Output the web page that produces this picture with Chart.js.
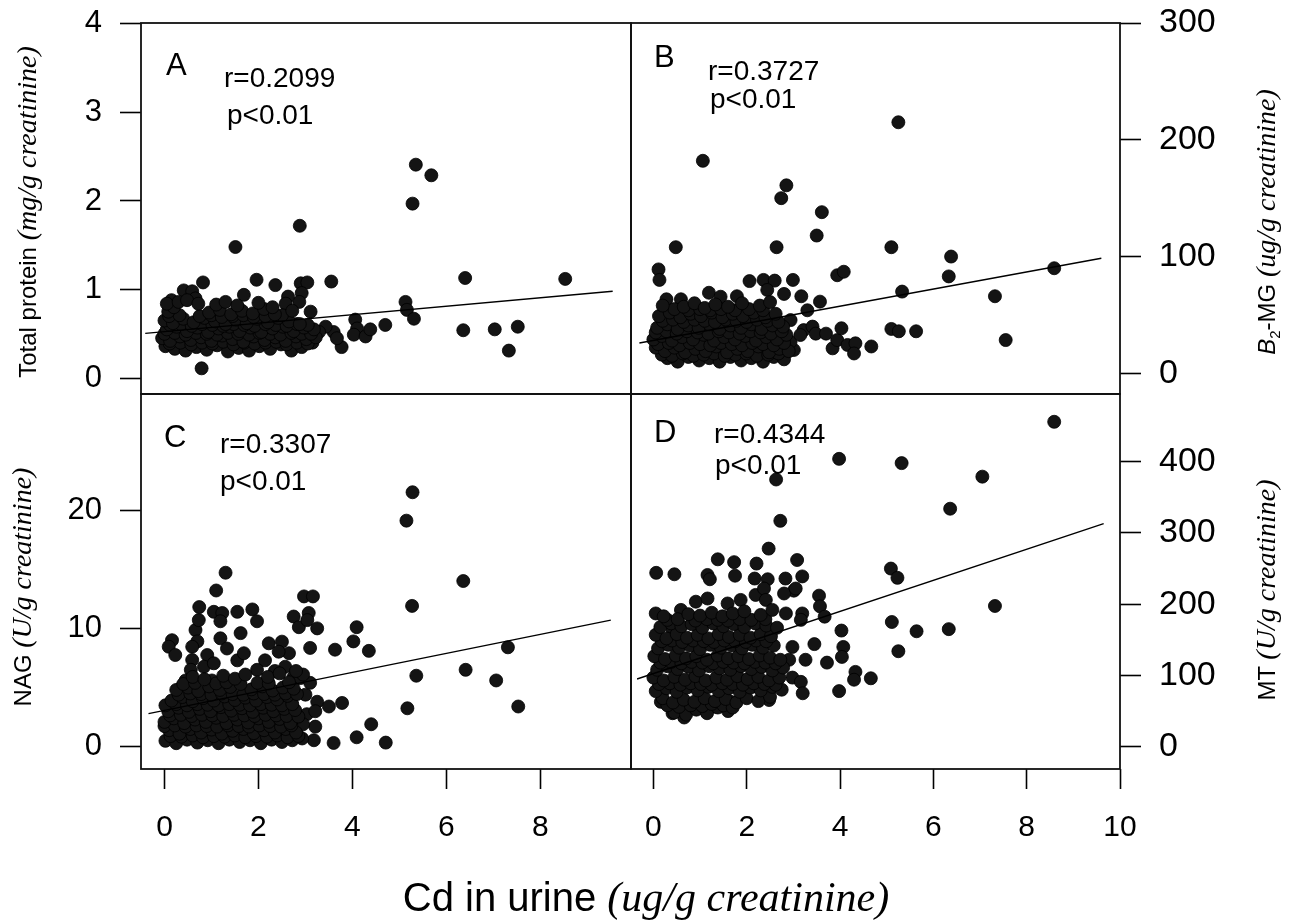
<!DOCTYPE html>
<html>
<head>
<meta charset="utf-8">
<title>Cd in urine and renal markers</title>
<script src="https://cdn.jsdelivr.net/npm/chart.js@4.4.1/dist/chart.umd.min.js"></script>
<style>
  html, body { margin: 0; padding: 0; background: #fff; }
  #page { position: relative; width: 1295px; height: 922px; overflow: hidden;
          font-family: 'Liberation Sans', Arial, sans-serif; color: #000; }
  canvas { position: absolute; }
  .title { position: absolute; white-space: nowrap; line-height: 1; font-size: 24px;
           transform: translate(-50%, -50%) rotate(-90deg); }
  .title i { font-family: 'Liberation Serif', 'Times New Roman', serif; font-size: 28px; }
  .title sub { font-size: 15px; }
  #xtitle { transform: translate(-50%, -50%); font-size: 40px; }
  #xtitle i { font-size: 42px; }
</style>
</head>
<body>
<div id="page">
  <canvas id="chartA" width="640" height="402" style="left:0;top:0"></canvas>
  <canvas id="chartB" width="673" height="402" style="left:622px;top:0"></canvas>
  <canvas id="chartC" width="640" height="536" style="left:0;top:386px"></canvas>
  <canvas id="chartD" width="673" height="536" style="left:622px;top:386px"></canvas>
  <div class="title" style="left:27px;top:212px">Total protein <i>(mg/g creatinine)</i></div>
  <div class="title" style="left:22px;top:587px">NAG <i>(U/g creatinine)</i></div>
  <div class="title" style="left:1267px;top:222px"><span style="font-style:italic">B</span><sub>2</sub>-MG <i>(ug/g creatinine)</i></div>
  <div class="title" style="left:1266px;top:590px">MT <i>(U/g creatinine)</i></div>
  <div class="title" id="xtitle" style="left:646px;top:897px">Cd in urine <i>(ug/g creatinine)</i></div>
</div>
<script>
// Axis ticks
const proteinTicks = [0, 1, 2, 3, 4];
const b2mgTicks = [0, 100, 200, 300];
const nagTicks = [0, 10, 20];
const mtTicks = [0, 100, 200, 300, 400];
const cdTicksLeft = [0, 2, 4, 6, 8];
const cdTicksRight = [0, 2, 4, 6, 8, 10];

// Panel annotations
const statsA = ['A', 'r=0.2099', 'p<0.01'];
const statsB = ['B', 'r=0.3727', 'p<0.01'];
const statsC = ['C', 'r=0.3307', 'p<0.01'];
const statsD = ['D', 'r=0.4344', 'p<0.01'];

// Regression line end points [Cd, value]
const proteinFit = [[-0.41, 0.505], [9.54, 0.98]];
const b2mgFit = [[-0.30, 26], [9.6, 98.5]];
const nagFit = [[-0.34, 2.8], [9.5, 10.7]];
const mtFit = [[-0.35, 95], [9.65, 313]];

// Total protein vs Cd  [Cd, mg/g creatinine]
const proteinPts = [
  [0.79,0.11],[1.51,1.48],[2.88,1.72],[5.35,2.41],[5.68,2.29],[5.28,1.97],
  [6.40,1.13],[8.53,1.12],[6.36,0.54],[7.03,0.55],[7.52,0.58],[7.33,0.31],
  [4.70,0.60],[5.13,0.86],[5.16,0.77],[5.31,0.67],
  [3.55,1.09],[2.90,1.07],[3.04,1.08],[2.92,0.96],[2.87,0.86],[2.63,0.92],[2.58,0.84],
  [2.36,1.05],[1.96,1.11],[0.82,1.08],[1.69,0.94],[3.11,0.75],
  [4.06,0.66],[4.10,0.56],[4.03,0.49],[4.28,0.47],[4.38,0.55],
  [3.77,0.35],[3.60,0.52],[3.67,0.45],[3.43,0.58],[3.29,0.52],
  [0.41,0.99],[0.59,0.98],[0.66,0.90],[0.15,0.88],
  [0.02,0.36],[0.22,0.33],[0.45,0.31],[0.68,0.35],[0.90,0.32],[1.12,0.37],[1.35,0.30],[1.58,0.34],
  [1.80,0.31],[2.02,0.36],[2.25,0.33],[2.48,0.38],[2.70,0.31],[2.92,0.35],[3.15,0.40],
  [0.11,0.39],[0.34,0.40],[0.57,0.38],[0.80,0.40],[1.02,0.39],[1.25,0.41],[1.47,0.38],[1.70,0.40],
  [1.92,0.39],[2.15,0.40],[2.38,0.41],[2.60,0.38],[2.82,0.40],[3.05,0.39],
  [-0.05,0.45],[0.12,0.42],[0.33,0.47],[0.56,0.43],[0.78,0.46],[1.00,0.42],[1.23,0.48],[1.45,0.44],
  [1.68,0.41],[1.90,0.47],[2.13,0.43],[2.36,0.46],[2.58,0.42],[2.80,0.47],[3.02,0.44],[3.22,0.46],
  [0.00,0.50],[0.22,0.51],[0.45,0.49],[0.67,0.51],[0.90,0.50],[1.12,0.49],[1.35,0.51],[1.57,0.50],
  [1.80,0.49],[2.02,0.51],[2.25,0.50],[2.47,0.49],[2.70,0.51],[2.92,0.50],[3.12,0.50],
  [0.05,0.55],[0.26,0.58],[0.48,0.53],[0.70,0.57],[0.93,0.52],[1.15,0.56],[1.38,0.58],[1.60,0.53],
  [1.83,0.57],[2.06,0.52],[2.30,0.56],[2.52,0.58],[2.75,0.53],[2.97,0.57],[3.18,0.55],
  [0.12,0.60],[0.35,0.61],[0.58,0.59],[0.80,0.61],[1.02,0.60],[1.25,0.59],[1.47,0.61],[1.70,0.60],
  [1.92,0.59],[2.15,0.61],[2.37,0.60],[2.60,0.59],[2.82,0.61],[3.05,0.60],
  [0.00,0.65],[0.18,0.62],[0.40,0.67],[0.62,0.63],[0.85,0.68],[1.08,0.64],[1.30,0.61],[1.52,0.66],
  [1.75,0.62],[1.97,0.67],[2.20,0.63],[2.42,0.68],[2.65,0.64],[2.88,0.61],
  [0.10,0.70],[0.32,0.71],[0.75,0.70],[1.00,0.71],[1.22,0.69],[1.45,0.70],[1.68,0.71],[1.90,0.69],
  [2.15,0.70],[2.50,0.71],
  [0.08,0.75],[0.20,0.80],[0.95,0.74],[1.18,0.77],[1.42,0.72],[1.65,0.76],[1.88,0.73],[2.12,0.78],
  [2.35,0.72],[2.72,0.76],
  [0.05,0.84],[0.30,0.86],[0.48,0.88],[0.72,0.84],[1.10,0.83],[1.30,0.86],[1.55,0.82],[2.00,0.85],[2.30,0.80]
];

// B2-MG vs Cd  [Cd, ug/g creatinine]
const b2mgPts = [
  [5.25,215],[1.06,182],[2.85,161],[2.74,150],[3.61,138],[3.50,118],
  [0.48,108],[2.64,108],[5.10,108],[6.38,100],[6.33,83],[8.59,90],
  [5.33,70],[7.32,66],[7.55,28.5],[5.10,38],[5.26,36],[5.63,36],
  [2.94,45.6],[3.22,37],[3.41,40],[3.48,34],[3.70,34],[3.84,21.4],[3.94,28.5],[4.03,38.6],
  [4.16,24.3],[4.33,25.7],[4.30,17],[4.67,23],[3.01,20],[2.94,27],[3.15,32.8],
  [3.94,84],[4.08,87],[0.11,89],[0.13,80],[2.06,79],[2.36,80],[2.60,79.4],[2.99,80],
  [3.57,61.4],[0.28,63.4],[0.59,63.4],[1.19,69],[1.44,65.6],[1.79,66],[3.17,66],[2.80,68],[2.44,71.4],[3.30,54],
  [0.30,13],[0.52,10],[0.75,14],[0.98,11],[1.20,13],[1.42,10],[1.65,14],[1.88,11],[2.10,13],[2.35,10],[2.58,14],[2.80,12],
  [0.18,16],[0.40,15],[0.63,17],[0.86,15],[1.08,16],[1.30,17],[1.53,15],[1.76,16],[1.99,17],[2.22,15],[2.46,16],[2.68,17],
  [0.05,22],[0.25,19],[0.45,22],[0.68,18],[0.90,21],[1.12,19],[1.35,23],[1.58,18],[1.80,21],[2.02,19],[2.25,23],[2.48,18],[2.70,21],[2.90,19],
  [0.10,25],[0.33,26],[0.56,24],[0.78,26],[1.00,25],[1.22,24],[1.45,26],[1.68,25],[1.90,24],[2.12,26],[2.35,25],[2.58,24],[2.80,26],
  [0.00,29],[0.18,32],[0.40,28],[0.62,31],[0.85,29],[1.08,33],[1.30,28],[1.52,31],[1.75,29],[1.97,32],[2.20,28],[2.42,31],[2.65,29],[2.85,33],
  [0.05,35],[0.28,36],[0.50,34],[0.72,36],[0.95,35],[1.18,34],[1.40,36],[1.62,35],[1.85,34],[2.08,36],[2.30,35],[2.52,34],[2.75,36],
  [0.08,39],[0.30,42],[0.52,38],[0.75,41],[0.97,39],[1.20,42],[1.42,38],[1.65,41],[1.88,39],[2.10,42],[2.32,38],[2.55,41],[2.78,40],
  [0.20,45],[0.42,46],[0.65,44],[0.88,46],[1.10,45],[1.32,44],[1.55,46],[1.78,45],[2.00,44],[2.22,46],[2.45,45],[2.68,44],
  [0.12,49],[0.35,52],[0.58,48],[0.80,51],[1.02,49],[1.25,52],[1.48,48],[1.70,51],[1.92,49],[2.15,52],[2.40,48],[2.62,51],
  [0.45,55],[0.75,54],[1.00,55],[1.22,54],[1.45,55],[1.75,54],[2.05,55],[2.35,54],
  [0.20,58],[0.65,57],[0.88,60],[1.10,56],[1.33,59],[1.60,57],[1.90,60],[2.28,58],[2.50,61]
];

// NAG vs Cd  [Cd, U/g creatinine]
const nagPts = [
  [5.28,21.5],[5.15,19.1],[1.30,14.7],[1.10,13.2],[6.36,14.0],[5.27,11.9],
  [2.97,12.7],[3.16,12.7],[0.74,11.8],[4.09,10.1],[4.02,8.9],[4.35,8.1],
  [3.63,8.2],[3.10,8.35],[7.31,8.4],[5.36,6.0],[6.41,6.5],[7.06,5.6],
  [5.17,3.25],[7.53,3.4],[4.71,0.35],[4.40,1.9],[4.09,0.8],[3.60,0.32],
  [3.78,3.7],[3.25,3.8],[3.50,3.4],[3.03,2.75],[3.21,3.0],[3.21,1.7],[3.18,0.55],[2.93,0.7],
  [1.05,11.4],[1.23,11.3],[1.19,10.6],[1.55,11.4],[1.87,11.6],[1.97,10.6],[1.62,9.6],
  [2.75,11.0],[3.07,11.3],[2.86,10.1],[3.25,10.0],[3.04,10.7],
  [0.16,9.0],[0.09,8.45],[0.23,7.75],[0.66,9.86],[0.70,8.9],[1.19,9.16],[1.33,8.3],[1.55,7.3],[1.69,7.9],
  [0.91,7.75],[0.84,6.76],[2.22,8.74],[2.50,8.88],[2.65,7.9],[2.43,8.03],
  [2.14,7.3],[1.97,6.5],[1.05,7.05],[1.01,5.6],[0.73,10.7],[0.59,8.45],[0.59,7.33],[0.56,6.5],[0.45,5.6],[0.38,5.1],
  [2.57,6.76],[2.75,5.9],[2.89,5.8],[2.95,1.9],[3.00,4.4],[3.10,5.4],[2.95,6.1],[2.35,6.4],[2.80,6.4],
  [0.02,0.5],[0.25,0.3],[0.48,0.6],[0.70,0.35],[0.92,0.55],[1.15,0.3],[1.38,0.6],[1.60,0.4],[1.82,0.55],[2.05,0.3],[2.28,0.6],[2.50,0.4],[2.72,0.55],
  [0.13,0.9],[0.36,0.85],[0.60,0.95],[0.82,0.8],[1.05,0.9],[1.28,0.85],[1.50,0.95],[1.72,0.8],[1.95,0.9],[2.18,0.85],[2.40,0.95],[2.62,0.8],[2.85,0.9],
  [0.10,1.4],[0.32,1.1],[0.55,1.5],[0.78,1.2],[1.00,1.45],[1.22,1.1],[1.45,1.35],[1.68,1.5],[1.90,1.15],[2.12,1.4],[2.35,1.2],[2.58,1.5],[2.80,1.2],
  [0.00,1.75],[0.22,1.8],[0.45,1.7],[0.68,1.8],[0.90,1.75],[1.12,1.7],[1.35,1.8],[1.58,1.75],[1.80,1.7],[2.02,1.8],[2.25,1.75],[2.48,1.7],[2.70,1.8],
  [0.00,2.1],[0.20,2.4],[0.42,2.0],[0.65,2.3],[0.88,2.1],[1.10,2.45],[1.32,2.0],[1.55,2.3],[1.78,2.05],[2.00,2.4],[2.22,2.1],[2.45,2.35],[2.68,2.0],
  [0.12,2.65],[0.35,2.7],[0.58,2.6],[0.80,2.7],[1.02,2.65],[1.25,2.6],[1.48,2.7],[1.70,2.65],[1.92,2.6],[2.15,2.7],[2.38,2.65],[2.60,2.6],[2.85,2.55],
  [0.08,3.0],[0.30,3.3],[0.52,2.95],[0.75,3.2],[0.98,3.0],[1.20,3.35],[1.42,3.05],[1.65,3.25],[1.88,2.95],[2.10,3.3],[2.32,3.0],[2.55,3.2],[2.78,3.1],
  [0.02,3.5],[0.25,3.6],[0.48,3.5],[0.70,3.6],[0.92,3.55],[1.15,3.5],[1.38,3.6],[1.60,3.55],[1.82,3.5],[2.05,3.6],[2.28,3.55],[2.50,3.5],[2.72,3.6],
  [0.15,3.9],[0.38,4.2],[0.60,3.85],[0.82,4.1],[1.05,3.9],[1.28,4.25],[1.50,3.95],[1.72,4.15],[1.95,3.9],[2.18,4.2],[2.40,4.0],[2.62,4.3],
  [0.30,4.4],[0.55,4.5],[0.78,4.45],[1.00,4.4],[1.22,4.5],[1.45,4.45],[1.68,4.4],[1.90,4.5],[2.12,4.45],[2.35,4.4],[2.58,4.5],[2.82,4.45],
  [0.25,4.8],[0.50,5.0],[0.72,4.7],[0.95,5.1],[1.18,4.8],[1.40,5.05],[1.85,4.85],[2.08,5.1],[2.30,4.75],[2.52,5.0],[2.75,4.9],
  [0.40,5.3],[0.65,5.4],[1.10,5.35],[1.32,5.45],[1.62,5.3],[1.98,5.4],[2.22,5.35],[2.65,5.45],
  [0.60,5.9],[0.85,5.7],[1.25,6.0],[1.50,5.75],[1.72,6.1],[2.20,5.9],[2.45,6.2]
];

// MT vs Cd  [Cd, U/g creatinine]
const mtPts = [
  [8.59,456],[3.98,404],[5.32,398],[7.05,379],[2.63,375],[6.36,334],[2.72,317],[2.47,278],
  [7.32,197.5],[5.09,250],[5.23,237],[5.11,175],[5.64,162],[6.33,165],[5.25,134],
  [0.06,244],[0.45,242],[1.38,263],[1.73,259],[1.75,240],[1.16,241],[1.21,235],[2.21,257],[3.08,262],
  [3.19,239],[2.83,236],[3.01,219],[2.17,236],[2.45,235],
  [3.55,212],[3.57,197],[3.67,182.5],[3.19,187],[3.16,178],[2.84,187],[2.19,213],[2.37,222],[2.41,206],[2.80,215],[3.05,222],
  [4.03,163],[3.45,144],[4.07,140],[4.04,126],[3.26,122],[3.72,118],[2.98,140],[2.91,122],
  [4.33,105],[4.30,94],[4.66,96],[3.98,78],[2.98,97],[3.16,91],[3.20,75],
  [2.48,65.5],[1.66,63],[1.34,56],[0.66,41],[0.41,47],[0.16,63],
  [0.05,187],[0.41,164],[0.59,192],[0.91,203.5],[1.16,208],[1.59,201],[1.87,206],
  [0.45,48],[0.70,45],[0.92,52],[1.15,47],[1.38,55],[1.60,50],
  [0.30,58],[0.55,56],[0.80,58],[1.05,57],[1.25,60],[1.50,58],[1.70,55],
  [0.20,68],[0.42,62],[0.65,66],[0.88,63],[1.10,68],[1.32,64],[1.55,67],[1.78,62],[2.00,68],[2.25,64],[2.50,70],
  [0.05,78],[0.28,82],[0.50,77],[0.72,83],[0.95,79],[1.18,84],[1.40,78],[1.62,82],[1.85,77],[2.08,83],[2.30,79],[2.55,84],[2.75,80],
  [0.12,88],[0.35,89],[0.58,87],[0.80,89],[1.02,88],[1.25,87],[1.48,89],[1.70,88],[1.92,87],[2.15,89],[2.38,88],[2.62,87],
  [0.00,97],[0.22,93],[0.45,98],[0.68,94],[0.90,99],[1.12,93],[1.35,97],[1.58,94],[1.80,99],[2.02,95],[2.25,98],[2.48,93],[2.70,97],
  [0.08,108],[0.30,113],[0.52,109],[0.75,112],[0.98,107],[1.20,113],[1.42,110],[1.65,108],[1.88,113],[2.10,109],[2.32,112],[2.55,107],[2.78,111],
  [0.15,118],[0.38,119],[0.60,117],[0.82,119],[1.05,118],[1.28,117],[1.50,119],[1.72,118],[1.95,117],[2.18,119],[2.40,118],[2.62,117],
  [0.02,127],[0.25,123],[0.48,128],[0.70,124],[0.92,127],[1.15,122],[1.38,128],[1.60,124],[1.82,127],[2.05,123],[2.28,128],[2.50,125],[2.72,122],
  [0.10,138],[0.32,143],[0.55,139],[0.78,142],[1.00,137],[1.22,143],[1.45,139],[1.68,142],[1.90,138],[2.12,143],[2.35,139],[2.58,142],
  [0.18,148],[0.40,149],[0.62,147],[0.85,149],[1.08,148],[1.30,147],[1.52,149],[1.75,148],[1.98,147],[2.20,149],[2.42,148],
  [0.05,157],[0.28,152],[0.50,158],[0.72,153],[0.95,157],[1.18,152],[1.40,158],[1.62,154],[1.85,157],[2.08,153],[2.30,158],[2.52,155],
  [0.15,168],[0.38,173],[0.60,169],[0.82,172],[1.05,167],[1.28,173],[1.50,169],[1.72,172],[1.95,168],[2.18,173],[2.42,170],[2.65,167],
  [0.30,178],[0.52,179],[0.90,177],[1.15,179],[1.38,178],[1.60,177],[1.85,179],[2.10,178],[2.40,179],
  [0.22,183],[0.75,186],[1.00,184],[1.25,188],[1.48,183],[1.70,187],[1.95,190],[2.30,185],[2.55,192]
];

const FONT = "'Liberation Sans', Arial, sans-serif";
Chart.defaults.font.family = FONT;
Chart.defaults.color = '#000';

// Box around each panel
const framePlugin = {
  id: 'frame',
  afterDatasetsDraw(chart) {
    const { ctx, chartArea: a } = chart;
    ctx.save();
    ctx.strokeStyle = '#111';
    ctx.lineWidth = 1.8;
    ctx.strokeRect(a.left, a.top, a.right - a.left, a.bottom - a.top);
    ctx.restore();
  }
};

// Panel letter and correlation text
const panelTextPlugin = {
  id: 'panelText',
  afterDraw(chart, args, opts) {
    const { ctx, chartArea: a } = chart;
    ctx.save();
    ctx.fillStyle = '#000';
    ctx.textBaseline = 'alphabetic';
    ctx.textAlign = 'left';
    opts.lines.forEach((txt, i) => {
      const [dx, dy] = opts.at[i];
      ctx.font = (i === 0 ? '31px ' : '28px ') + FONT;
      ctx.fillText(txt, a.left + dx, a.top + dy);
    });
    ctx.restore();
  }
};

function toXY(list) {
  return list.map(([x, y]) => ({ x, y }));
}

function yScale(side, min, max, ticks, size) {
  return {
    type: 'linear', position: side, min, max,
    afterBuildTicks: (s) => { s.ticks = ticks.map((v) => ({ value: v })); },
    afterFit: (s) => {
      s.width = side === 'left' ? 141 : 175;
      // ticks sit inside the range, so no extra room is needed above/below
      s.paddingTop = 0;
      s.paddingBottom = 0;
    },
    grid: { drawOnChartArea: false, drawTicks: true, tickLength: 21, tickWidth: 1.6, tickColor: '#000' },
    border: { display: false },
    ticks: { padding: 18, color: '#000', font: { size }, callback: (v) => String(v) }
  };
}

function xScale(min, max, ticks) {
  if (!ticks) return { type: 'linear', min, max, display: false };
  return {
    type: 'linear', position: 'bottom', min, max,
    afterBuildTicks: (s) => { s.ticks = ticks.map((v) => ({ value: v })); },
    afterFit: (s) => {
      s.height = 80;
      s.paddingLeft = 0;
      s.paddingRight = 0;
    },
    grid: { drawOnChartArea: false, drawTicks: true, tickLength: 20, tickWidth: 1.6, tickColor: '#000' },
    border: { display: false },
    ticks: { padding: 21, color: '#000', font: { size: 30 }, maxRotation: 0, callback: (v) => String(v) }
  };
}

function makePanel(id, p) {
  new Chart(document.getElementById(id), {
    type: 'scatter',
    data: {
      datasets: [
        {
          data: toXY(p.fit), showLine: true, borderColor: '#000', borderWidth: 1.4,
          pointRadius: 0, pointHoverRadius: 0
        },
        {
          data: toXY(p.pts), pointRadius: 6.5, pointHoverRadius: 6.5,
          pointBackgroundColor: '#141414', pointBorderColor: '#000', pointBorderWidth: 0.8
        }
      ]
    },
    options: {
      responsive: false, animation: false, devicePixelRatio: 1,
      layout: { padding: p.pad },
      scales: { x: xScale(p.xMin, p.xMax, p.xTicks), y: yScale(p.side, p.yMin, p.yMax, p.yTicks, p.ySize) },
      plugins: {
        legend: { display: false },
        tooltip: { enabled: false },
        panelText: { lines: p.stats, at: p.textAt }
      }
    },
    plugins: [framePlugin, panelTextPlugin]
  });
}

makePanel('chartA', {
  pts: proteinPts, fit: proteinFit, stats: statsA,
  xMin: -0.5, xMax: 9.93, xTicks: null,
  side: 'left', yMin: -0.18, yMax: 4.01, yTicks: proteinTicks, ySize: 31,
  pad: { left: 0, top: 23, right: 9, bottom: 8 },
  textAt: [[25, 52], [83, 64], [86, 101]]
});
makePanel('chartB', {
  pts: b2mgPts, fit: b2mgFit, stats: statsB,
  xMin: -0.48, xMax: 10, xTicks: null,
  side: 'right', yMin: -17.7, yMax: 300, yTicks: b2mgTicks, ySize: 34,
  pad: { left: 9, top: 23, right: 0, bottom: 8 },
  textAt: [[23, 44], [77, 57], [79, 85]]
});
makePanel('chartC', {
  pts: nagPts, fit: nagFit, stats: statsC,
  xMin: -0.5, xMax: 9.93, xTicks: cdTicksLeft,
  side: 'left', yMin: -1.88, yMax: 29.8, yTicks: nagTicks, ySize: 31,
  pad: { left: 0, top: 8, right: 9, bottom: 73 },
  textAt: [[23, 53], [79, 59], [79, 96]]
});
makePanel('chartD', {
  pts: mtPts, fit: mtFit, stats: statsD,
  xMin: -0.48, xMax: 10, xTicks: cdTicksRight,
  side: 'right', yMin: -31.3, yMax: 495, yTicks: mtTicks, ySize: 34,
  pad: { left: 9, top: 8, right: 0, bottom: 73 },
  textAt: [[23, 48], [83, 49], [84, 80]]
});
</script>
</body>
</html>
